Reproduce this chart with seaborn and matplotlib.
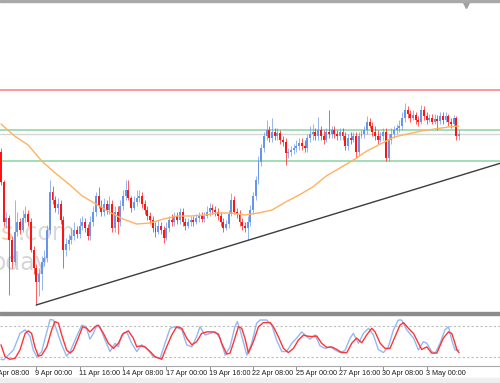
import matplotlib
matplotlib.use("Agg")
import matplotlib.pyplot as plt
import matplotlib.transforms as mtransforms
from matplotlib.patches import Rectangle
import pandas as pd
import seaborn as sns

# === DATA (4h bars, arbitrary price units) ===
first_open = 160
closes = [130, 90, 94, 72, 50, 80, 90, 82, 94, 98,
          90, 62, 44, 30, 38, 50, 54, 82, 120, 112,
          104, 108, 92, 62, 68, 72, 76, 82, 78, 86,
          90, 84, 76, 90, 100, 116, 106, 100, 108, 102,
          108, 84, 100, 90, 106, 116, 122, 114, 104, 110,
          114, 116, 108, 102, 96, 92, 84, 80, 86, 82,
          74, 84, 92, 90, 96, 92, 100, 90, 86, 90,
          92, 90, 94, 96, 93, 96, 100, 104, 102, 100,
          96, 90, 84, 88, 98, 112, 100, 98, 90, 86,
          84, 90, 102, 116, 132, 150, 164, 176, 182, 174,
          180, 176, 179, 172, 170, 159, 160, 162, 164, 166,
          169, 166, 164, 174, 178, 180, 176, 182, 176, 172,
          180, 178, 182, 178, 176, 180, 176, 166, 174, 172,
          176, 160, 176, 178, 182, 190, 186, 180, 176, 172,
          176, 180, 154, 172, 178, 182, 184, 186, 194, 202,
          198, 194, 197, 192, 190, 202, 196, 192, 194, 190,
          193, 191, 196, 192, 196, 190, 188, 194, 176, 178]
highs = [164, 132, 100, 97, 76, 112, 100, 94, 102, 106,
         102, 94, 66, 48, 44, 56, 62, 87, 132, 126,
         116, 114, 112, 96, 74, 78, 84, 90, 86, 94,
         96, 94, 88, 96, 106, 120, 125, 112, 114, 112,
         116, 112, 106, 106, 112, 122, 132, 132, 116, 116,
         122, 122, 120, 112, 106, 100, 96, 90, 92, 90,
         86, 90, 96, 98, 100, 100, 104, 104, 94, 94,
         96, 96, 98, 100, 100, 100, 106, 109, 108, 106,
         104, 100, 94, 92, 102, 119, 116, 104, 102, 94,
         90, 96, 107, 120, 136, 156, 168, 180, 192, 186,
         194, 184, 184, 182, 176, 174, 164, 166, 168, 172,
         174, 174, 172, 178, 186, 188, 184, 195, 186, 182,
         184, 202, 186, 186, 182, 184, 184, 180, 178, 180,
         180, 180, 180, 182, 186, 196, 194, 190, 186, 182,
         180, 184, 184, 178, 184, 186, 188, 192, 200, 209,
         206, 202, 202, 200, 196, 207, 206, 200, 198, 198,
         198, 197, 200, 200, 200, 198, 194, 197, 196, 182]
lows = [127, 86, 84, 17, 44, 47, 76, 78, 80, 90,
        86, 60, 38, 7, 16, 22, 46, 50, 78, 108,
        100, 98, 88, 44, 56, 62, 68, 72, 74, 74,
        82, 80, 72, 72, 86, 96, 104, 96, 96, 98,
        98, 80, 80, 78, 86, 102, 112, 112, 100, 102,
        106, 110, 104, 98, 92, 88, 80, 75, 78, 78,
        69, 72, 80, 86, 86, 88, 88, 86, 82, 84,
        86, 86, 88, 90, 90, 90, 94, 96, 98, 96,
        92, 86, 80, 82, 84, 96, 98, 94, 86, 82,
        80, 72, 86, 98, 112, 128, 146, 160, 172, 170,
        170, 172, 172, 168, 166, 147, 154, 156, 158, 160,
        162, 162, 160, 160, 170, 172, 172, 172, 172, 168,
        170, 174, 174, 174, 172, 172, 172, 162, 162, 168,
        170, 154, 156, 174, 174, 178, 184, 176, 172, 168,
        170, 172, 151, 151, 168, 174, 178, 180, 182, 190,
        194, 190, 192, 188, 186, 188, 192, 188, 190, 188,
        188, 182, 188, 188, 190, 186, 184, 186, 172, 172]

# moving average
ma_bars = list(range(0, 170, 5)) + [169]
ma_vals = [188, 176, 167, 151, 139, 128, 116, 108, 100, 93,
           88, 89, 93, 96, 96, 97, 99, 99, 97, 99,
           102, 110, 117, 125, 136, 144, 152, 161, 168, 175,
           178, 181, 183, 185, 186]

# horizontal levels and trendline
resistance = 222
zone_top = 182
bid_price = 178
zone_bottom = 151
trend_bars = [13, 184.5]
trend_prices = [7, 149]

# stochastic oscillator
k_bars = [0, 0.9, 2.1, 4.6, 7.0, 8.9, 10.7, 11.9, 13.2, 15.0, 16.9, 18.1, 19.3, 20.5,
          22.4, 24.2, 25.5, 27.9, 29.8, 31.4, 32.8, 34.1, 35.3, 36.5, 38.4, 40.2, 42.1,
          43.3, 44.5, 46.4, 48.2, 50.1, 51.9, 53.8, 56.2, 58.7, 60.5, 62.4, 64.2, 66.7,
          68.5, 70.4, 72.2, 73.4, 75.3, 77.1, 79.0, 80.8, 82.7, 84.5, 86.3, 87.2, 88.2,
          90.7, 92.5, 94.3, 95.6, 98.0, 99.9, 101.7, 103.6, 105.4, 107.3, 109.1, 110.9,
          112.2, 114.0, 115.9, 117.7, 119.6, 121.4, 123.2, 125.1, 126.9, 128.8, 130.0,
          131.9, 133.7, 135.6, 137.4, 139.2, 141.1, 142.9, 144.8, 146.6, 147.8, 149.7,
          152.2, 154.0, 155.8, 157.1, 158.9, 160.2, 162.0, 163.8, 165.1, 166.3, 167.5, 169.0]
k_vals = [15, 14, 20, 33, 65, 72, 59, 33, 20, 30, 68, 92, 91, 72,
          43, 21, 30, 59, 81, 78, 54, 65, 81, 78, 52, 30, 46,
          39, 62, 68, 46, 30, 43, 36, 20, 17, 46, 75, 78, 72,
          43, 39, 59, 78, 62, 65, 68, 56, 23, 39, 78, 88, 72,
          23, 46, 85, 91, 91, 81, 52, 30, 30, 46, 56, 68,
          62, 54, 62, 41, 36, 39, 33, 28, 32, 56, 65,
          46, 65, 75, 62, 34, 28, 39, 72, 91, 91, 72,
          56, 33, 49, 46, 30, 27, 46, 72, 78, 52, 33, 33]
d_bars = [0, 1.5, 3.3, 5.2, 7.0, 8.9, 10.1, 11.3, 12.5, 13.8, 15.0, 16.9, 18.7, 19.9,
          21.2, 22.4, 24.2, 25.5, 26.7, 28.5, 30.1, 31.6, 32.8, 34.7, 35.9, 37.8, 39.6,
          41.5, 43.3, 45.1, 47.0, 48.8, 50.1, 51.3, 53.1, 55.0, 56.8, 59.3, 61.1, 63.0,
          64.8, 66.7, 68.5, 70.4, 72.2, 74.0, 75.9, 78.4, 80.2, 81.4, 83.3, 84.5, 85.7,
          87.6, 88.8, 90.0, 91.3, 93.1, 95.0, 96.8, 99.3, 100.5, 102.3, 104.2, 106.0,
          107.9, 109.7, 111.6, 112.8, 114.6, 116.5, 118.3, 120.2, 122.0, 123.9, 125.7,
          127.6, 129.4, 131.2, 133.1, 134.9, 136.8, 138.0, 139.9, 141.7, 143.5, 145.4,
          147.2, 148.5, 150.3, 152.2, 154.0, 155.2, 157.1, 158.9, 160.8, 163.2, 165.1,
          166.3, 167.5, 168.2, 169.0]
d_vals = [43, 20, 15, 17, 33, 65, 70, 65, 39, 21, 23, 39, 72, 88,
          85, 62, 33, 27, 33, 56, 78, 75, 68, 78, 81, 65, 46,
          36, 46, 65, 70, 56, 39, 41, 39, 30, 20, 15, 39, 62,
          78, 75, 56, 43, 49, 65, 68, 68, 64, 46, 25, 27, 46,
          78, 75, 56, 27, 49, 78, 86, 86, 78, 59, 36, 28,
          36, 52, 62, 60, 59, 60, 46, 38, 39, 34, 28,
          28, 46, 56, 47, 62, 75, 68, 46, 36, 36, 59,
          81, 86, 75, 65, 46, 34, 39, 27, 27, 56, 68,
          65, 46, 33, 28]

tick_bars = [-3, 13, 29, 45, 61, 77, 93, 109, 125, 141, 157]
tick_labels = ["6 Apr 08:00", "9 Apr 00:00", "11 Apr 16:00", "14 Apr 08:00",
               "17 Apr 00:00", "19 Apr 16:00", "22 Apr 08:00", "25 Apr 00:00",
               "27 Apr 16:00", "30 Apr 08:00", "3 May 00:00"]

# === PLOT ===
sns.set_theme(style="white")
plt.rcParams["font.family"] = ["Liberation Sans", "DejaVu Sans"]

BULL = "#6795EC"
BEAR = "#FF1414"
H = 383.0

fig = plt.figure(figsize=(5, 3.83), dpi=100)
ax = fig.add_axes([0, (H - 312) / H, 1, 309 / H])
ax2 = fig.add_axes([0, (H - 366) / H, 1, 51 / H])

df = pd.DataFrame({"close": closes, "high": highs, "low": lows})
df["bar"] = range(len(df))
df["open"] = [first_open] + closes[:-1]
df["up"] = df["close"] >= df["open"]

for is_up, col in [(True, BULL), (False, BEAR)]:
    d = df[df["up"] == is_up]
    ax.vlines(d["bar"], d["low"], d["high"], color=col, lw=0.7, alpha=0.7, zorder=3)
    body = (d["close"] - d["open"]).abs().clip(lower=1.2)
    ax.bar(d["bar"], body, bottom=d[["open", "close"]].min(axis=1),
           width=0.72, color=col, lw=0, zorder=4)

sns.lineplot(x=ma_bars, y=ma_vals, ax=ax, color="#FFB260", lw=1.0, zorder=5)

ax.axhline(resistance, color="#FF7A7A", lw=1.1, zorder=2)
ax.axhline(zone_top, color="#8AD3A4", lw=1.1, zorder=2)
ax.axhline(bid_price, color="#D6D6D6", lw=1.0, zorder=2)
ax.axhline(zone_bottom, color="#8AD3A4", lw=1.1, zorder=2)
ax.plot(trend_bars, trend_prices, color="#3C3C3C", lw=1.0, zorder=6)

# faint watermark
ax.text(1 / 500, 1 - 240 / H, "s", transform=fig.transFigure, fontsize=17,
        family="DejaVu Sans", color="#F6CFA8", va="baseline", zorder=1)
ax.text(17 / 500, 1 - 240 / H, ".com", transform=fig.transFigure, fontsize=17,
        family="DejaVu Sans", color="#DADADA", va="baseline", zorder=1)
ax.text(-8 / 500, 1 - 270 / H, "oday", transform=fig.transFigure, fontsize=17,
        family="DejaVu Sans", color="#D6D6D6", va="baseline", zorder=1)

ax.set_xlim(-0.37, 184.1)
ax.set_ylim(0, 309)
ax.axis("off")

# oscillator panel
ax2.axhline(80, color="#BDBDBD", lw=0.8, ls=(0, (2, 2)))
ax2.axhline(20, color="#BDBDBD", lw=0.8, ls=(0, (2, 2)))
sns.lineplot(x=k_bars, y=k_vals, ax=ax2, color="#95B8F4", lw=1.0)
sns.lineplot(x=d_bars, y=d_vals, ax=ax2, color="#FF3434", lw=1.0)
ax2.set_xlim(-0.37, 184.1)
ax2.set_ylim(2, 100.7)
for side in ["top", "left", "right"]:
    ax2.spines[side].set_visible(False)
ax2.spines["bottom"].set_color("#A8A8A8")
ax2.spines["bottom"].set_linewidth(0.8)
ax2.set_yticks([])
ax2.set_xticks(tick_bars[1:])
ax2.tick_params(axis="x", length=3, width=0.6, color="#808080", labelbottom=False, bottom=True)
ax2.set_xlabel("")
ax2.set_ylabel("")
trans = mtransforms.blended_transform_factory(ax2.transData, ax2.transAxes)
for b, lab in zip(tick_bars, tick_labels):
    ax2.text(b - 0.3, -0.15, lab, transform=trans, ha="left", va="center",
             fontsize=5.2, color="#1E1E1E", clip_on=False)

# window chrome: top border, panel separator, bottom strip, shift marker
fig.patches.append(Rectangle((0, (H - 2) / H), 1, 2 / H, transform=fig.transFigure,
                             color="#A9A9A9", zorder=0))
fig.patches.append(Rectangle((0, (H - 314.5) / H), 1, 2.2 / H, transform=fig.transFigure,
                             color="#8C8C8C", zorder=0))
fig.patches.append(Rectangle((0, 0), 1, 5 / H, transform=fig.transFigure,
                             color="#EFEFEF", zorder=0))
ax.plot([466 / 500], [1 - 4.5 / H], transform=fig.transFigure, marker="v", ms=4,
        color="#A0A0A0", clip_on=False)

fig.savefig("out.png", dpi=100)
